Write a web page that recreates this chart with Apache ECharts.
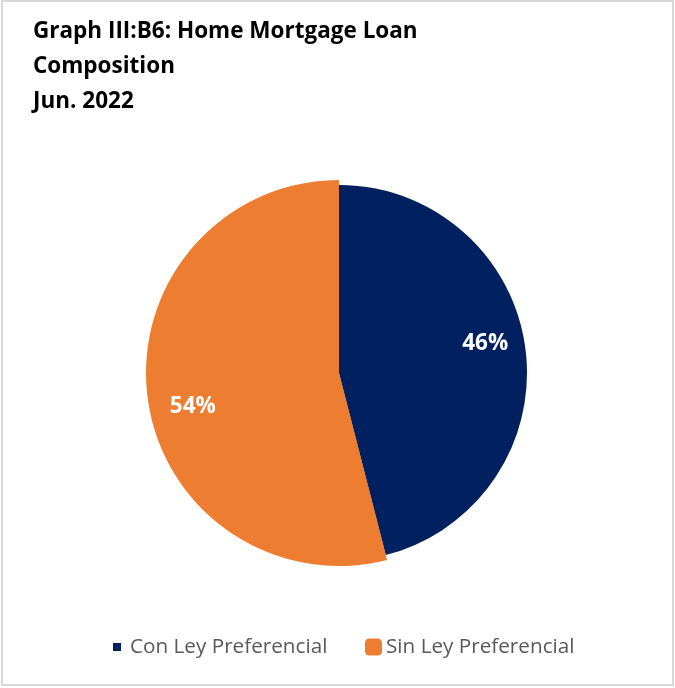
<!DOCTYPE html>
<html>
<head>
<meta charset="utf-8">
<title>Home Mortgage Loan Composition</title>
<script src="https://cdn.jsdelivr.net/npm/echarts@6/dist/echarts.min.js"></script>
<style>
  html, body { margin: 0; padding: 0; background: #fff; }
  #chart { width: 675px; height: 688px; }
</style>
</head>
<body>
<div id="chart"></div>
<script>
// Loan composition, June 2022 (share of portfolio, %)
const categories = ['Con Ley Preferencial', 'Sin Ley Preferencial'];
const shares = [46, 54];
const colors = ['#002060', '#ED7D31'];
const titleLines = ['Graph III:B6: Home Mortgage Loan', 'Composition', 'Jun. 2022'];

const FONT = '"Open Sans", "Noto Sans", sans-serif';
const CENTER = [339, 373];

const slices = categories.map((name, i) => ({
  name,
  value: shares[i],
  itemStyle: { color: colors[i] }
}));

// Outer layer: the second slice is drawn slightly larger than the first
const outerSlices = categories.map((name, i) => ({
  name,
  value: shares[i],
  itemStyle: { color: i === 0 ? 'rgba(0,0,0,0)' : colors[i] }
}));

// Label carrier: invisible ring so the percentages sit near the rim
const labelSlices = categories.map((name, i) => ({
  name,
  value: shares[i],
  itemStyle: { color: 'rgba(0,0,0,0)' }
}));

const chart = echarts.init(document.getElementById('chart'), null, { renderer: 'canvas' });

chart.setOption({
  animation: false,
  backgroundColor: '#ffffff',
  title: {
    text: titleLines.join('\n'),
    left: 33,
    top: 14,
    padding: 0,
    textStyle: {
      fontFamily: FONT,
      fontWeight: 'bold',
      fontSize: 22.5,
      lineHeight: 35,
      color: '#000000'
    }
  },
  graphic: [{
    type: 'rect',
    silent: true,
    z: -1,
    shape: { x: 2, y: 1, width: 671, height: 684 },
    style: { fill: 'none', stroke: '#d9d9d9', lineWidth: 2 }
  }],
  legend: [{
    data: [categories[0]],
    left: 113,
    top: 636,
    padding: 0,
    icon: 'rect',
    itemWidth: 8,
    itemHeight: 8,
    selectedMode: false,
    textStyle: {
      fontFamily: FONT,
      fontSize: 20.7,
      lineHeight: 22,
      color: '#595959',
      padding: [0, 0, 0, 4]
    }
  }, {
    data: [categories[1]],
    left: 365,
    top: 636,
    padding: 0,
    icon: 'roundRect',
    itemWidth: 17,
    itemHeight: 17,
    selectedMode: false,
    textStyle: {
      fontFamily: FONT,
      fontSize: 20.7,
      lineHeight: 22,
      color: '#595959',
      padding: [0, 0, 0, -1]
    }
  }],
  series: [{
    name: 'main',
    type: 'pie',
    center: CENTER,
    radius: [0, 188],
    startAngle: 90,
    clockwise: true,
    z: 2,
    label: { show: false },
    labelLine: { show: false },
    itemStyle: { borderWidth: 0 },
    emphasis: { disabled: true },
    data: slices
  }, {
    name: 'outer',
    type: 'pie',
    center: CENTER,
    radius: [0, 193],
    startAngle: 90,
    clockwise: true,
    z: 1,
    silent: true,
    label: { show: false },
    labelLine: { show: false },
    itemStyle: { borderWidth: 0 },
    emphasis: { disabled: true },
    data: outerSlices
  }, {
    name: 'labels',
    type: 'pie',
    center: CENTER,
    radius: [102, 190],
    startAngle: 94,
    clockwise: true,
    z: 3,
    silent: true,
    itemStyle: { borderWidth: 0 },
    emphasis: { disabled: true },
    labelLine: { show: false },
    // nudge the second percentage a little lower
    labelLayout: function (params) {
      return params.dataIndex === 1 ? { dy: 5 } : {};
    },
    label: {
      show: true,
      position: 'inside',
      formatter: '{d}%',
      color: '#ffffff',
      fontFamily: FONT,
      fontWeight: 'bold',
      fontSize: 22.5
    },
    data: labelSlices
  }]
});
</script>
</body>
</html>
